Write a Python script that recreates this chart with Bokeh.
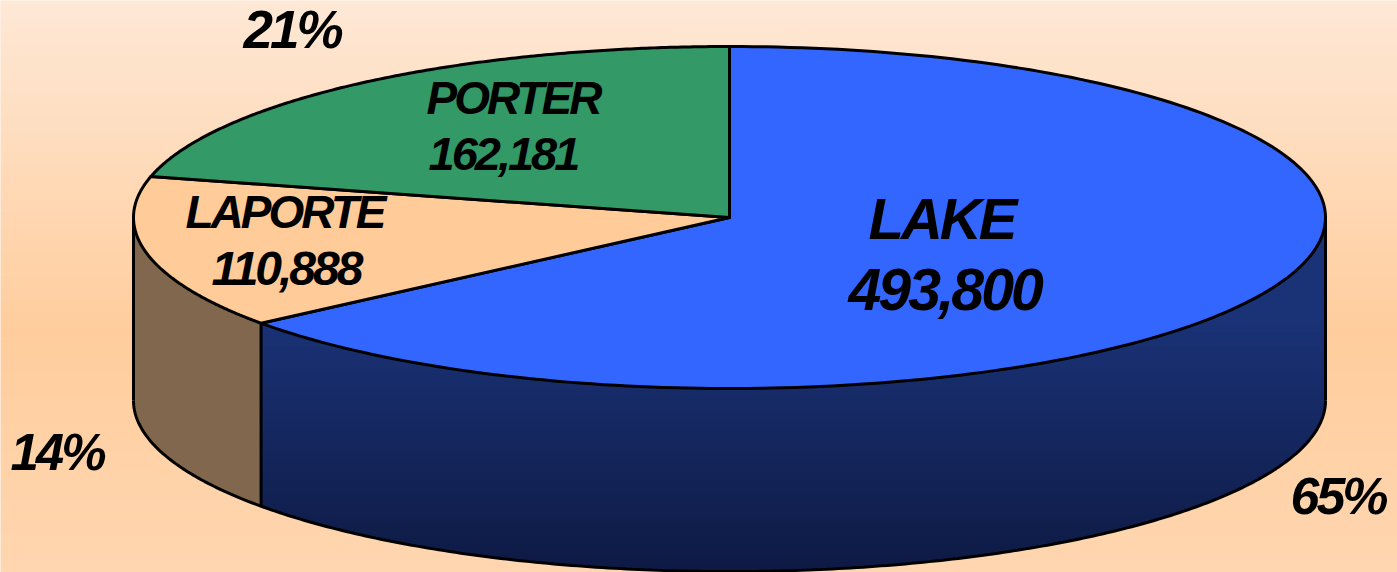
import numpy as np
from bokeh.plotting import figure
from bokeh.models import Range1d
from bokeh.core.properties import value
from bokeh.embed import file_html
from bokeh.resources import INLINE

counties = ["LAKE", "LAPORTE", "PORTER"]
populations = [493800, 110888, 162181]
population_labels = ["493,800", "110,888", "162,181"]
percent_labels = ["65%", "14%", "21%"]

W, H = 1397, 572
cx, cy, rx, ry, depth = 729.0, 217.0, 596.0, 171.0, 183.0

shares = np.array(populations, dtype=float) / sum(populations)
edges = np.concatenate([[0.0], np.cumsum(shares)]) * 2 * np.pi

def rim(a, dy=0.0):
    return cx + rx * np.sin(a), cy + dy - ry * np.cos(a)

def lerp(stops, y):
    ys = [s[0] for s in stops]
    return "#%02x%02x%02x" % tuple(int(round(np.interp(y, ys, [s[1][i] for s in stops]))) for i in range(3))

p = figure(width=W, height=H, output_backend="svg", toolbar_location=None,
           x_range=Range1d(0, W), y_range=Range1d(H, 0),
           x_axis_type=None, y_axis_type=None, min_border=0, outline_line_color=None,
           background_fill_color="#fee8d6", border_fill_color="#fee8d6")
p.grid.visible = False
p.styles = {"letter-spacing": "-3px"}

# page background gradient
bg_stops = [(0, (254, 232, 214)), (330, (255, 205, 157)), (572, (255, 214, 176))]
step = 4
ys = np.arange(0, H, step)
p.quad(left=0, right=W, top=ys, bottom=ys + step + 1, fill_color=[lerp(bg_stops, y + step / 2) for y in ys], line_color=None)

# side wall of LAKE with vertical gradient, cut in overlapping horizontal bands
lake_end = edges[1]
wall_x, wall_top_y = rim(lake_end)
side_stops = [(320, (26, 50, 118)), (570, (14, 26, 68))]

def wall_bounds(y):
    t = np.clip((y - (cy + depth)) / ry, 0, 1)
    half = rx * np.sqrt(1 - t ** 2)
    return np.maximum(wall_x, cx - half), cx + half

xs_b, ys_b, cols = [], [], []
band_edges = np.arange(cy, cy + depth + ry + 3, 3.0)
for y0, y1 in zip(band_edges[:-1], band_edges[1:]):
    yy = np.linspace(y0, y1 + 1.5, 5)
    l, r = wall_bounds(yy)
    xs_b.append(list(l) + list(r[::-1]))
    ys_b.append(list(yy) + list(yy[::-1]))
    cols.append(lerp(side_stops, (y0 + y1) / 2))
p.patches(xs_b, ys_b, fill_color=cols, line_color=None)

# side wall of LAPORTE
a = np.linspace(lake_end, 1.5 * np.pi, 60)
x_top, y_top = rim(a)
x_bot, y_bot = rim(a, depth)
p.patch(np.r_[x_top, x_bot[::-1]], np.r_[y_top, y_bot[::-1]], fill_color="#80674d", line_color=None)

# outlines of walls
LW = 3
a_all = np.linspace(np.pi / 2, 1.5 * np.pi, 300)
x_bot, y_bot = rim(a_all, depth)
p.line(x_bot, y_bot, line_color="black", line_width=LW)
for ang in (np.pi / 2, 1.5 * np.pi, lake_end):
    x0, y0 = rim(ang)
    p.line([x0, x0], [y0, y0 + depth], line_color="black", line_width=LW)

# top faces
face_colors = ["#3366ff", "#ffcc99", "#339966"]
for i, c in enumerate(face_colors):
    a = np.linspace(edges[i], edges[i + 1], 200)
    x, y = rim(a)
    p.patch(np.r_[cx, x, cx], np.r_[cy, y, cy], fill_color=c, line_color="black", line_width=LW, line_join="round")

# labels: left edge, baseline and size in reference pixels
def label(txt, x, y, size):
    p.text([x], [y - 0.385 * size], text=[txt], text_font=value("Liberation Sans"), text_font_style="bold italic",
           text_font_size=f"{size}px", text_color="black", text_align="left", text_baseline="alphabetic")

label(counties[0], 868, 240, 58)
label(population_labels[0], 848, 312, 59)
label(counties[2], 426, 115, 46)
label(population_labels[2], 428, 172, 47)
label(counties[1], 185, 229, 46)
label(population_labels[1], 211, 286, 48)
label(percent_labels[2], 243, 49, 53)
label(percent_labels[1], 10, 472, 51)
label(percent_labels[0], 1290, 516, 52)

open("out.html", "w").write(file_html(p, INLINE))
